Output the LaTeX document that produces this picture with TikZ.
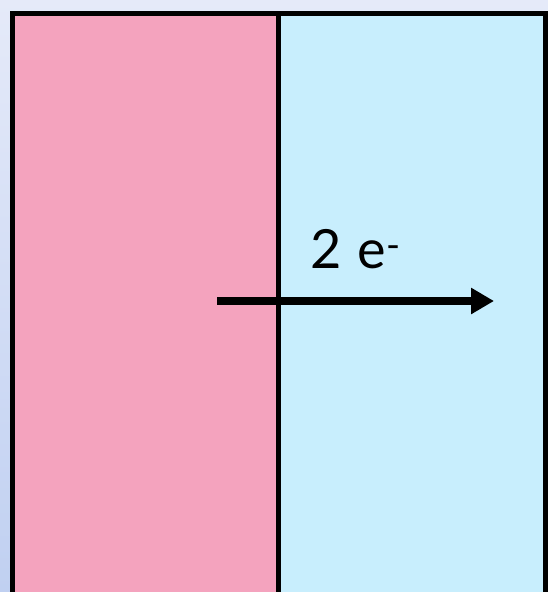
\documentclass[tikz,border=0pt]{standalone}
\usepackage{fontspec}
\setmainfont{Lato}
\usetikzlibrary{arrows.meta}
\definecolor{bgtop}{RGB}{229,234,249}
\definecolor{bgbot}{RGB}{192,208,241}
\definecolor{pinkfill}{RGB}{244,163,190}
\definecolor{bluefill}{RGB}{200,238,253}
\tikzset{
  panel/.style={rectangle, inner sep=0pt, draw=none},
  edge/.style={line width=5pt, black},
  flow/.style={line width=7.5pt, black, -{Triangle[length=23pt,width=25pt]}},
  lbl/.style={font=\fontsize{54}{60}\selectfont, inner sep=0pt}
}
\begin{document}
\begin{tikzpicture}[x=1pt,y=-1pt]
\useasboundingbox (0,0) rectangle (548,592);
\clip (0,0) rectangle (548,592);
\shade[top color=bgtop, bottom color=bgbot] (0,0) rectangle (548,592);
\node[panel, fill=pinkfill, minimum width=266.5pt, minimum height=600pt, anchor=north west] (left) at (12,13) {};
\node[panel, fill=bluefill, minimum width=267pt, minimum height=600pt, anchor=north west] (right) at (278.5,13) {};
\draw[edge] (left.south west) -- (left.north west) -- (right.north east) -- (right.south east);
\draw[edge] (left.north east) -- (left.south east);
\coordinate (s) at (217,301);
\coordinate (e) at (494,301);
\draw[flow] (s) -- (e);
\node[lbl, anchor=base west] (t) at (310,268) {2\hspace{0.3em}e\textsuperscript{-}};
\end{tikzpicture}
\end{document}
